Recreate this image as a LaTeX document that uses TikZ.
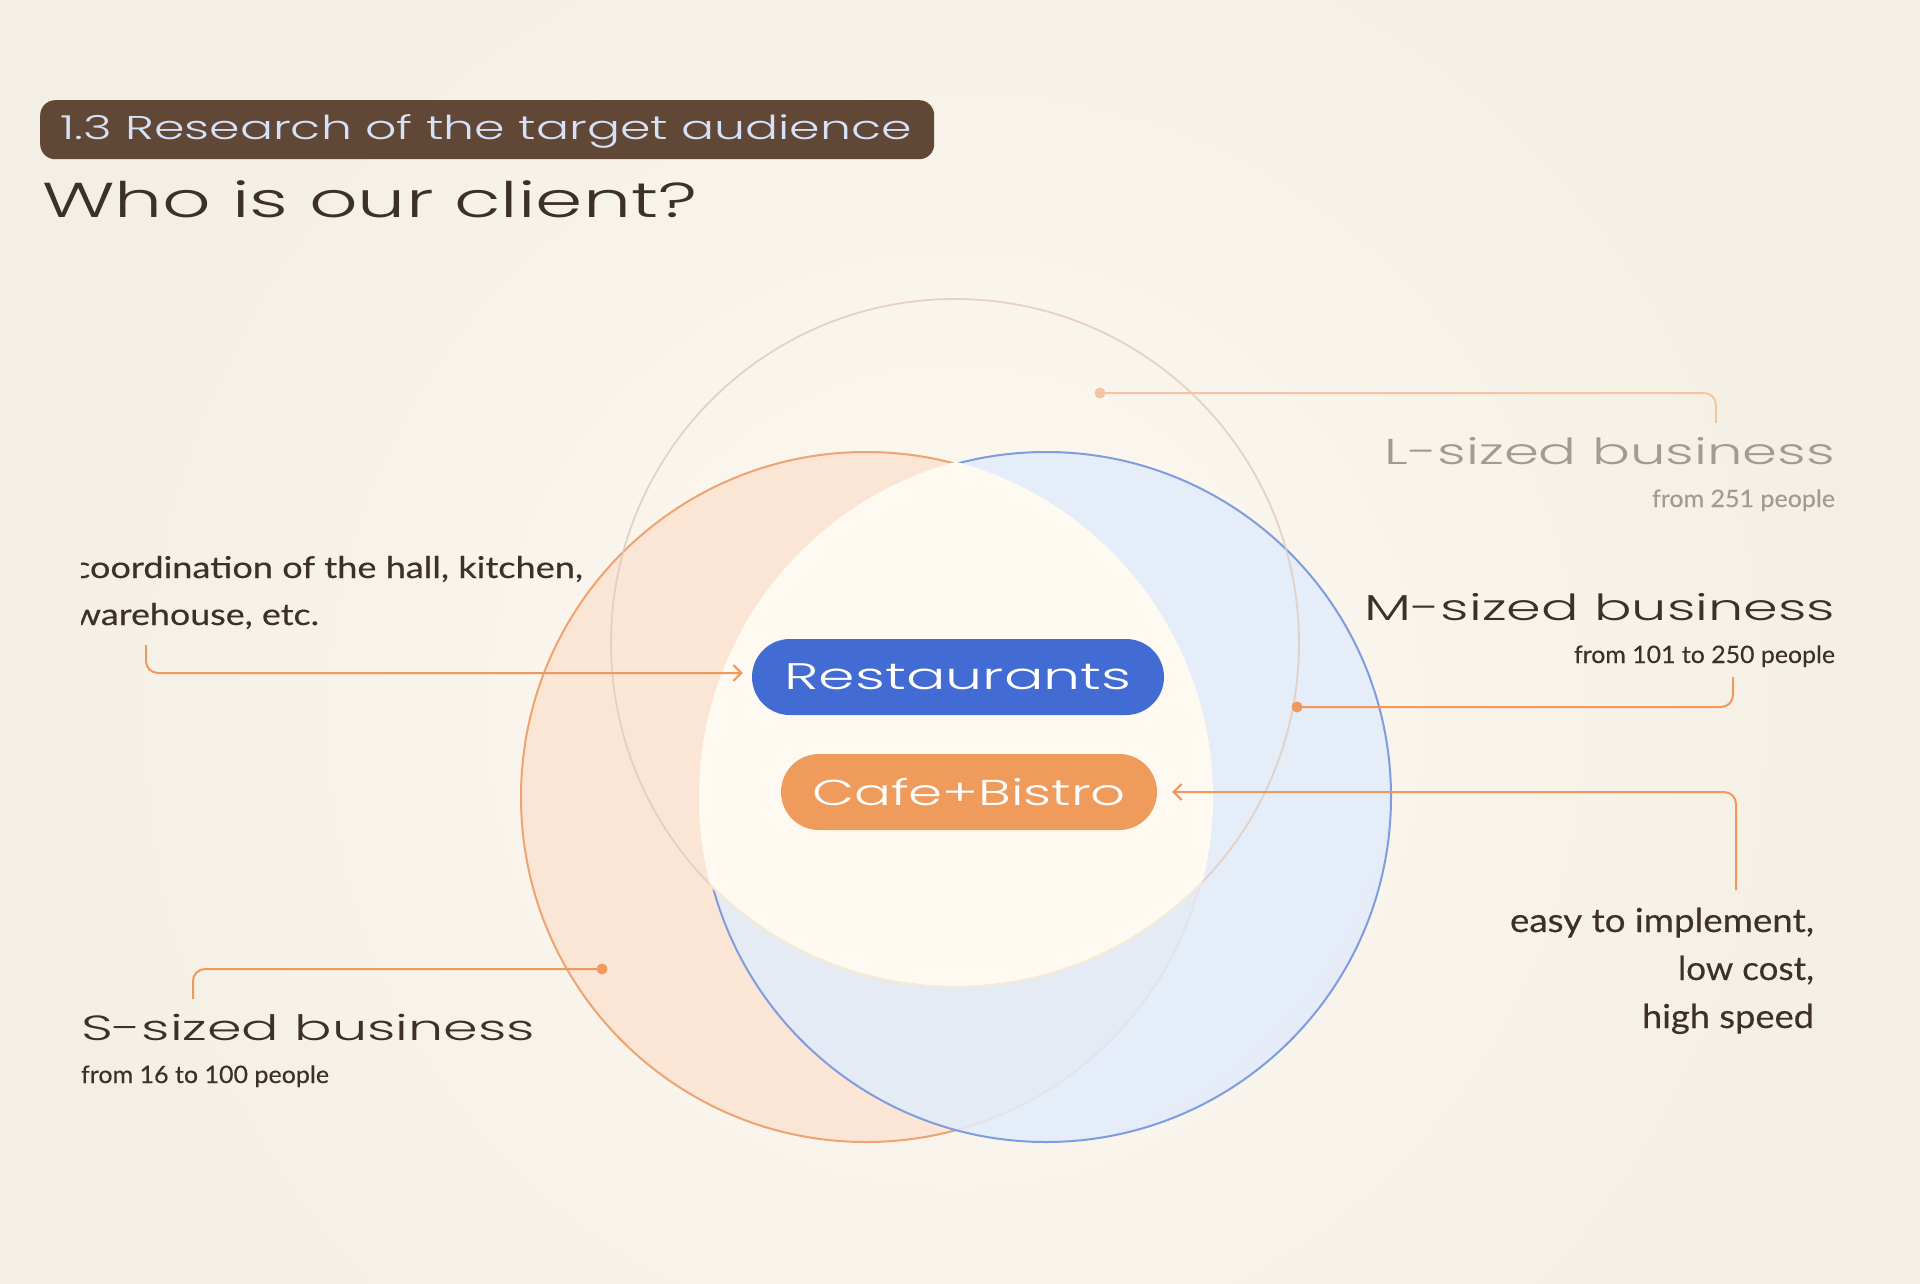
\documentclass[tikz,border=0pt]{standalone}
\usepackage{fontspec}
\usepackage{graphicx}
\usetikzlibrary{arrows.meta}
\setmainfont{Lato}
\IfFontExistsTF{Poppins Light}{\newfontfamily\widefont{Poppins Light}}{\newfontfamily\widefont{Poppins}}
\newfontfamily\bodyfont[FakeBold=0.35]{Lato}

\definecolor{bgc}{HTML}{F4EFE4}
\definecolor{glowc}{HTML}{FAF6EE}
\definecolor{peach}{HTML}{FBE6D5}
\definecolor{orangeline}{HTML}{EFA370}
\definecolor{bluefill}{HTML}{E3ECFA}
\definecolor{blueline}{HTML}{7E9DE1}
\definecolor{tanline}{HTML}{E0CABB}
\definecolor{brightc}{HTML}{FEFAF2}
\definecolor{brightedge}{HTML}{F3EBDA}
\definecolor{conn}{HTML}{EF9A5C}
\definecolor{connlight}{HTML}{F5C4A0}
\definecolor{darktext}{HTML}{3D3029}
\definecolor{greytext}{HTML}{A39B92}
\definecolor{barfill}{HTML}{614736}
\definecolor{bartext}{HTML}{D5E1F7}
\definecolor{restblue}{HTML}{426BD4}
\definecolor{cafeorange}{HTML}{EF9B5C}

\newcommand\fitw[2]{\resizebox{#1}{\height}{#2}}

\pgfdeclareradialshading{glowshade}{\pgfpointorigin}{color(0bp)=(glowc); color(8bp)=(glowc); color(25bp)=(bgc); color(50bp)=(bgc)}

\begin{document}
\begin{tikzpicture}[x=1pt,y=-1pt,
  txt/.style={inner sep=0pt, outer sep=0pt, text=darktext},
  conline/.style={draw=conn, line width=2pt, rounded corners=12pt},
  dotc/.style={circle, fill=conn, inner sep=0pt, minimum size=11pt},
  pill/.style={rounded corners=38pt, minimum height=76pt, inner sep=0pt, text=white},
  arr/.style={-{Straight Barb[length=8pt,width=16pt]}}
]
\useasboundingbox (0,0) rectangle (1920,1284);
\begin{scope}
  \clip (0,0) rectangle (1920,1284);
  \fill[bgc] (0,0) rectangle (1920,1284);
  \shade[shading=glowshade] (955,720) circle (950);
\end{scope}

% circles
\coordinate (cL) at (955,643);
\coordinate (cS) at (866,797);
\coordinate (cM) at (1046,797);
\fill[glowc, opacity=0.5] (cL) circle (344);
\fill[peach] (cS) circle (345);
\draw[orangeline, line width=2pt] (cS) circle (345);
\fill[bluefill, fill opacity=0.88] (cM) circle (345);
\draw[blueline, line width=2pt] (cM) circle (345);
\draw[tanline, line width=1.8pt, opacity=0.8] (cL) circle (344);
\begin{scope}
  \clip (cS) circle (347);
  \clip (cM) circle (347);
  \fill[brightc, draw=brightedge, line width=2.5pt] (cL) circle (344);
\end{scope}

% title bar
\node[fill=barfill, rounded corners=15pt, minimum width=894pt, minimum height=59pt, inner sep=0pt, anchor=north west] (bar) at (40,100) {};
\node[txt, text=bartext, anchor=base west] (bartxt) at (60,140) {\widefont\fontsize{33}{33}\selectfont\fitw{852pt}{1.3 Research of the target audience}};
\node[txt, anchor=base west] (who) at (42,218) {\widefont\fontsize{49}{49}\selectfont\fitw{655pt}{Who is our client?}};

% pills
\node[pill, fill=restblue, minimum width=412pt] (rest) at (958,677) {\widefont\fontsize{37}{37}\selectfont\fitw{347pt}{Restaurants}};
\node[pill, fill=cafeorange, minimum width=376pt] (cafe) at (969,792) {\widefont\fontsize{36}{36}\selectfont\fitw{314pt}{Cafe+Bistro}};

% right labels
\node[txt, text=greytext, anchor=base east] (lsz) at (1835,464) {\widefont\fontsize{36}{36}\selectfont\fitw{450pt}{L-sized business}};
\node[txt, text=greytext, anchor=base east] (lsub) at (1835,507) {\bodyfont\fontsize{24}{24}\selectfont\fitw{183pt}{from 251 people}};
\node[txt, anchor=base east] (msz) at (1835,620) {\widefont\fontsize{36}{36}\selectfont\fitw{470pt}{M-sized business}};
\node[txt, anchor=base east] (msub) at (1835,663) {\bodyfont\fontsize{24}{24}\selectfont\fitw{261pt}{from 101 to 250 people}};
\node[txt, anchor=base west] (ssz) at (81,1040) {\widefont\fontsize{35}{35}\selectfont\fitw{454pt}{S-sized business}};
\node[txt, anchor=base west] (ssub) at (81,1083) {\bodyfont\fontsize{24}{24}\selectfont\fitw{248pt}{from 16 to 100 people}};

\node[txt, anchor=base east] (easy1) at (1814,932) {\bodyfont\fontsize{33}{33}\selectfont\fitw{304pt}{easy to implement,}};
\node[txt, anchor=base east] (easy2) at (1814,980) {\bodyfont\fontsize{33}{33}\selectfont\fitw{136pt}{low cost,}};
\node[txt, anchor=base east] (easy3) at (1814,1028) {\bodyfont\fontsize{33}{33}\selectfont\fitw{172pt}{high speed}};

\begin{scope}
  \clip (81,0) rectangle (1920,1284);
  \node[txt, anchor=base west] (coord1) at (73,578) {\bodyfont\fontsize{30}{30}\selectfont\fitw{510pt}{coordination of the hall, kitchen,}};
  \node[txt, anchor=base west] (coord2) at (73,625) {\bodyfont\fontsize{30}{30}\selectfont\fitw{246pt}{warehouse, etc.}};
\end{scope}

% connectors
\node[dotc, fill=connlight] (dotL) at (1100,393) {};
\coordinate (eL) at (1716,423);
\draw[conline, draw=connlight] (dotL.center) -| (eL);

\node[dotc] (dotM) at (1297,707) {};
\coordinate (eM) at (1733,677);
\draw[conline] (dotM.center) -| (eM);

\node[dotc] (dotS) at (602,969) {};
\coordinate (eS) at (193,999);
\draw[conline] (dotS.center) -| (eS);

\coordinate (sC) at (1736,890);
\draw[conline, arr] (sC) |- ([xshift=15pt]cafe.east);

\coordinate (sR) at (146,645);
\draw[conline, arr] (sR) |- ([xshift=-9pt,yshift=4pt]rest.west);
\end{tikzpicture}
\end{document}
